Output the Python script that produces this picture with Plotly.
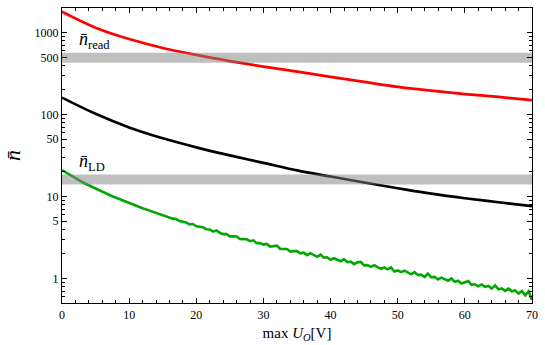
import numpy as np
import plotly.graph_objects as go

# smooth curves read at every 5 V
U_COARSE = [0, 5, 10, 15, 20, 25, 30, 35, 40, 45, 50, 55, 60, 65, 70]
N_RED = [1800, 1150, 835, 650, 535, 450, 385, 335, 288, 250, 218, 196, 178, 164, 150]
N_BLACK = [161, 102, 69.5, 51.3, 39.8, 31.7, 25.7, 20.8, 17.5, 14.8, 12.6, 10.8, 9.5, 8.5, 7.6]

# noisy green curve read every 0.5 V
U_FINE = list(np.arange(0, 70.5, 0.5))
N_GREEN = [
    21.0, 19.8, 18.65, 17.6, 16.7, 15.8, 15.0, 14.3, 13.65, 13.0,
    12.4, 11.9, 11.4, 10.9, 10.5, 10.07, 9.68, 9.31, 8.96, 8.62,
    8.30, 8.00, 7.72, 7.45, 7.19, 6.95, 6.71, 6.49, 6.28, 6.07,
    5.87, 5.75, 5.46, 5.36, 5.30, 5.00, 4.90, 4.80, 4.57, 4.61,
    4.32, 4.24, 4.20, 3.97, 3.95, 3.72, 3.85, 3.60, 3.47, 3.48,
    3.25, 3.27, 3.25, 3.03, 3.01, 3.00, 2.84, 2.91, 2.69, 2.70,
    2.58, 2.63, 2.44, 2.46, 2.51, 2.29, 2.29, 2.28, 2.12, 2.16,
    2.15, 2.02, 2.06, 1.92, 2.03, 1.91, 1.83, 1.95, 1.79, 1.81,
    1.69, 1.76, 1.68, 1.62, 1.71, 1.58, 1.60, 1.49, 1.57, 1.59,
    1.44, 1.45, 1.38, 1.45, 1.37, 1.31, 1.36, 1.29, 1.36, 1.21,
    1.25, 1.19, 1.24, 1.17, 1.12, 1.19, 1.10, 1.11, 1.04, 1.14,
    1.03, 1.04, 0.97, 1.02, 0.971, 0.936, 0.995, 0.906, 0.936, 0.867,
    0.897, 0.926, 0.834, 0.846, 0.799, 0.843, 0.790, 0.809, 0.750, 0.821,
    0.733, 0.751, 0.702, 0.749, 0.694, 0.711, 0.652, 0.70, 0.619, 0.695,
    0.543,
]

# threshold bands (low, high)
BAND_READ = [430, 570]
BAND_LD = [14, 18.5]

Y_TICKS = [1, 5, 10, 50, 100, 500, 1000]
Y_MINOR = [0.6, 0.7, 0.8, 0.9, 2, 3, 4, 6, 7, 8, 9, 20, 30, 40, 60, 70, 80, 90,
           200, 300, 400, 600, 700, 800, 900]

SERIF = "Liberation Serif, DejaVu Serif, serif"

fig = go.Figure()

fig.add_trace(go.Scatter(x=U_COARSE, y=N_RED, mode="lines",
                         line=dict(color="#ff0000", width=2.7, shape="spline")))
fig.add_trace(go.Scatter(x=U_COARSE, y=N_BLACK, mode="lines",
                         line=dict(color="#000000", width=2.7, shape="spline")))
fig.add_trace(go.Scatter(x=U_FINE, y=N_GREEN, mode="lines",
                         line=dict(color="#00a800", width=2.6)))

# translucent gray bands drawn over the curves
for lo, hi in (BAND_READ, BAND_LD):
    fig.add_trace(go.Scatter(
        x=[0, 70, 70, 0, 0], y=[lo, lo, hi, hi, lo],
        fill="toself", fillcolor="rgba(128,128,128,0.5)",
        line=dict(width=0), mode="lines", hoverinfo="skip",
    ))

fig.add_annotation(x=2.2, y=np.log10(BAND_READ[1]), xref="x", yref="y",
                   text="<i>n̄</i><sub>read</sub>", showarrow=False,
                   xanchor="left", yanchor="bottom", yshift=-1,
                   font=dict(family=SERIF, size=18, color="black"))
fig.add_annotation(x=2.2, y=np.log10(BAND_LD[1]), xref="x", yref="y",
                   text="<i>n̄</i><sub>LD</sub>", showarrow=False,
                   xanchor="left", yanchor="bottom", yshift=-1,
                   font=dict(family=SERIF, size=18, color="black"))

fig.update_layout(
    width=545, height=345,
    margin=dict(l=58, r=9, t=7, b=41),
    plot_bgcolor="white", paper_bgcolor="white",
    showlegend=False,
    font=dict(family=SERIF, size=12, color="black"),
)
fig.update_xaxes(
    range=[0, 70], dtick=10, ticks="inside", ticklen=5, tickcolor="black",
    tickfont=dict(family=SERIF, size=12),
    minor=dict(dtick=2, ticks="inside", ticklen=3, tickcolor="black"),
    showline=True, linecolor="black", linewidth=1.3, mirror="allticks",
    showgrid=False, zeroline=False,
    title=dict(text="max <i>U<sub>O</sub></i>[V]", font=dict(family=SERIF, size=15), standoff=6),
)
fig.update_yaxes(
    type="log", range=[np.log10(0.5), np.log10(2000)],
    tickvals=Y_TICKS, ticktext=[str(v) for v in Y_TICKS],
    tickfont=dict(family=SERIF, size=12),
    ticks="inside", ticklen=5, tickcolor="black",
    minor=dict(tickvals=Y_MINOR, ticks="inside", ticklen=3, tickcolor="black"),
    showline=True, linecolor="black", linewidth=1.3, mirror="allticks",
    showgrid=False, zeroline=False,
    title=dict(text="<i>n̄</i>", font=dict(family=SERIF, size=22), standoff=12),
)

fig.write_html("out.html", config={"displayModeBar": False},
               post_script="document.body.style.margin='0';")
